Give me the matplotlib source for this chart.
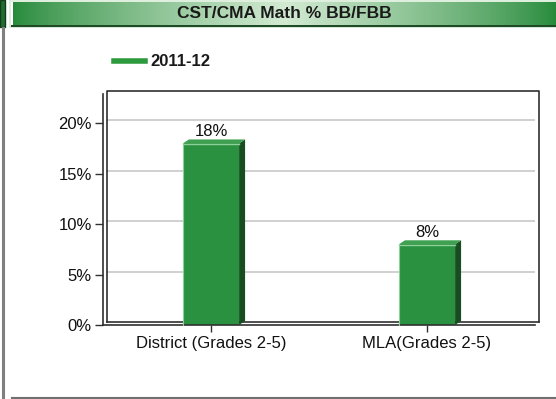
import numpy as np
import matplotlib.pyplot as plt
from matplotlib.patches import Polygon, Rectangle
from matplotlib.transforms import offset_copy

plt.rcParams['font.family'] = ['Liberation Sans', 'DejaVu Sans']

# data
categories = ['District (Grades 2-5)', 'MLA(Grades 2-5)']
values = [18, 8]
series_name = '2011-12'
yticks = [0, 5, 10, 15, 20]

W, H = 556, 399
fig = plt.figure(figsize=(W / 100, H / 100), dpi=100)
fig.patch.set_facecolor('white')

def px(x0, y0, x1, y1):
    # pixel box (top-left origin) -> figure fraction rect
    return [x0 / W, 1 - y1 / H, (x1 - x0) / W, (y1 - y0) / H]

# title bar with green gradient
tb = fig.add_axes(px(13, 2, W, 25))
t = np.linspace(0, 1, 400)
mix = np.clip(1 - np.abs(t - 0.5) * 2, 0, 1) ** 0.8
dark = np.array([38, 138, 58]) / 255
light = np.array([210, 234, 210]) / 255
grad = dark[None, :] * (1 - mix[:, None]) + light[None, :] * mix[:, None]
tb.imshow(grad[None, :, :], aspect='auto', extent=[0, 1, 0, 1])
tb.set_xlim(0, 1); tb.set_ylim(0, 1)
tb.axis('off')
tb.text(0.5, 0.5, 'CST/CMA Math % BB/FBB', ha='center', va='center',
        fontsize=12.5, fontweight='bold', color='#1a1a1a')

# title bar borders and left stub
deco = fig.add_axes([0, 0, 1, 1], zorder=-1)
deco.set_xlim(0, W); deco.set_ylim(H, 0); deco.axis('off')
deco.add_patch(Rectangle((10, 0.5), W - 10, 26.5, fc='none', ec='#d8ecd8', lw=1.2))
deco.plot([12, W], [26, 26], color='#1e4a25', lw=1.5)
deco.add_patch(Rectangle((0, 0), 5, 27, fc='#1f6e30', ec='#153a1c', lw=1))
deco.plot([3, 3], [28, H], color='#808080', lw=2.2)
deco.plot([12, W], [397.5, 397.5], color='#707070', lw=1.5)

# plot area
ax = fig.add_axes(px(103, 94, 535, 325))
ytop = 22.9
ax.set_xlim(-0.5, 1.5)
ax.set_ylim(0, ytop)
for s in ax.spines.values():
    s.set_visible(False)
ax.patch.set_alpha(0)

back = offset_copy(ax.transData, fig=fig, x=4, y=3, units='dots')
# back wall and gridlines
for yv in yticks[1:]:
    ax.plot([-0.5, 1.5], [yv, yv], color='#c8c8c8', lw=1.2, transform=back, zorder=1)
ax.plot([-0.5, -0.5, 1.5, 1.5], [0, ytop, ytop, 0], color='#303030', lw=1.2,
        transform=back, zorder=2, clip_on=False)
ax.plot([-0.5, 1.5], [0, 0], color='#303030', lw=1.2, transform=back, zorder=2, clip_on=False)
# front edges
ax.plot([-0.5, -0.5], [0, ytop], color='#303030', lw=1.2, zorder=2, clip_on=False)
ax.plot([-0.5, 1.5], [0, 0], color='#303030', lw=1.2, zorder=5, clip_on=False)

x = np.arange(len(categories))
bw = 0.26
bars = ax.bar(x, values, width=bw, color='#2a9140', zorder=3, lw=0)

# 3D side and top faces for each bar
fig.canvas.draw()
dx, dy = 6, 4
for xi, v in zip(x, values):
    (xl, y0), (xr, y1) = ax.transData.transform([(xi - bw / 2, 0), (xi + bw / 2, v)])
    side = Polygon([(xr, y0), (xr + dx, y0 + dy), (xr + dx, y1 + dy), (xr, y1)],
                   closed=True, fc='#174d20', ec='none', transform=None, zorder=3)
    top = Polygon([(xl, y1), (xl + dx, y1 + dy), (xr + dx, y1 + dy), (xr, y1)],
                  closed=True, fc='#3fa052', ec='none', transform=None, zorder=3)
    fig.add_artist(side)
    fig.add_artist(top)
    fig.add_artist(plt.Line2D([xl, xr], [y1 - 1, y1 - 1], color='#8fd09a', lw=1,
                              transform=None, zorder=4))
    fig.add_artist(plt.Line2D([xl + 0.5, xl + 0.5], [y0, y1], color='#8fd09a', lw=0.8,
                              transform=None, zorder=4))
    ax.text(xi, v + 0.45, f'{v}%', ha='center', va='bottom', fontsize=12, color='#111111')

ax.set_yticks(yticks)
ax.set_yticklabels([f'{v}%' for v in yticks], fontsize=12, color='#111111')
ax.set_xticks(x)
ax.set_xticklabels(categories, fontsize=12, color='#111111')
ax.tick_params(axis='y', length=6, width=1, color='#303030', pad=2)
ax.tick_params(axis='x', length=5, width=1, color='#303030', pad=3)

# legend
fig.add_artist(plt.Line2D([114 / W, 145 / W], [1 - 61 / H, 1 - 61 / H],
                          color='#2e9a3e', lw=4))
fig.text(150 / W, 1 - 61 / H, series_name, ha='left', va='center',
         fontsize=12, fontweight='bold', color='#1a1a1a')

fig.savefig('out.png', dpi=100)
